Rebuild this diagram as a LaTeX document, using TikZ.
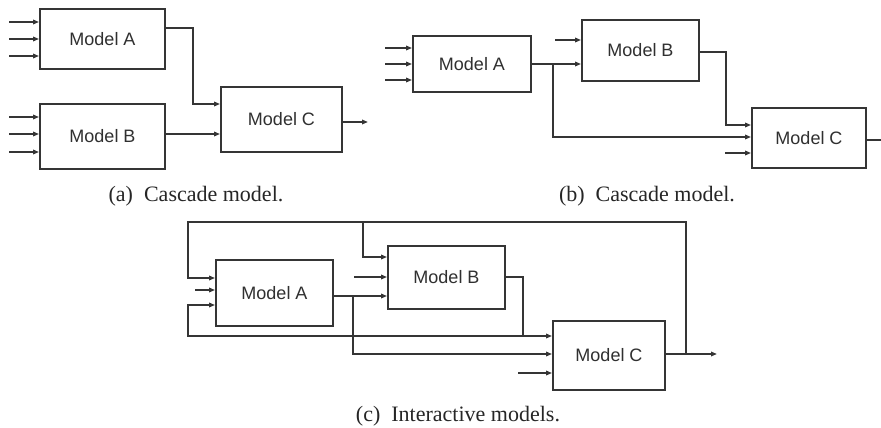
\documentclass[tikz,border=0pt]{standalone}
\usepackage{fontspec}
\setmainfont{Liberation Serif}
\newfontfamily\labelfont{Liberation Sans}
\usetikzlibrary{arrows.meta}
\definecolor{ink}{HTML}{353535}
\tikzset{
  box/.style={draw=ink, line width=1.9pt, fill=white, font=\labelfont\fontsize{18}{20}\selectfont, text=ink!90!black, inner sep=0pt},
  wire/.style={draw=ink, line width=1.7pt},
  arr/.style={wire, -{Triangle[length=6pt,width=4.5pt]}},
  captext/.style={font=\fontsize{22}{24}\selectfont, text=black!85, anchor=base, inner sep=0pt}
}
\begin{document}
\begin{tikzpicture}[x=1pt,y=-1pt]
\useasboundingbox[fill=white] (0,0) rectangle (881,428);

% ---------------- (a) ----------------
\node[box, minimum width=125pt, minimum height=60pt] (aA) at (102.5,39) {Model A};
\node[box, minimum width=125pt, minimum height=65pt] (aB) at (102.5,136.5) {Model B};
\node[box, minimum width=121pt, minimum height=65pt] (aC) at (281.5,119.5) {Model C};
\foreach \y in {22,39,56} {\coordinate (ain\y) at (9,\y); \draw[arr] (ain\y) -- (aA.west |- ain\y);}
\foreach \y in {117,134,152} {\coordinate (bin\y) at (9,\y); \draw[arr] (bin\y) -- (aB.west |- bin\y);}
\coordinate (aj1) at (193,28);
\coordinate (aj2) at (193,104);
\draw[arr] (aA.east |- aj1) -- (aj1) -- (aj2) -- (aC.west |- aj2);
\coordinate (aj3) at (190,134);
\draw[arr] (aB.east |- aj3) -- (aC.west |- aj3);
\coordinate (aout) at (368,122);
\draw[arr] (aC.east |- aout) -- (aout);
\node[captext] (capa) at (196,201) {(a)\ \ Cascade model.};

% ---------------- (b) ----------------
\node[box, minimum width=118pt, minimum height=56pt] (bA) at (472,64) {Model A};
\node[box, minimum width=117pt, minimum height=61pt] (bB) at (640.5,50.5) {Model B};
\node[box, minimum width=114pt, minimum height=60pt] (bC) at (809,138) {Model C};
\foreach \y in {48,64,80} {\coordinate (bain\y) at (385,\y); \draw[arr] (bain\y) -- (bA.west |- bain\y);}
\coordinate (bj1) at (553,64);
\coordinate (bj2) at (553,137);
\draw[arr] (bA.east |- bj1) -- (bB.west |- bj1);
\draw[arr] (bj1) -- (bj2) -- (bC.west |- bj2);
\coordinate (bbin) at (555,40);
\draw[arr] (bbin) -- (bB.west |- bbin);
\coordinate (bj3) at (726,52);
\coordinate (bj4) at (726,125);
\draw[arr] (bB.east |- bj3) -- (bj3) -- (bj4) -- (bC.west |- bj4);
\coordinate (bcin) at (725,153);
\draw[arr] (bcin) -- (bC.west |- bcin);
\coordinate (bout) at (881,140);
\draw[wire] (bC.east |- bout) -- (bout);
\node[captext] (capb) at (647,201) {(b)\ \ Cascade model.};

% ---------------- (c) ----------------
\node[box, minimum width=117pt, minimum height=66pt] (cA) at (274.5,293) {Model A};
\node[box, minimum width=117pt, minimum height=63pt] (cB) at (446.5,277.5) {Model B};
\node[box, minimum width=112pt, minimum height=69pt] (cC) at (609,355.5) {Model C};
% output and feedback
\coordinate (cout) at (717,354);
\coordinate (cf1) at (686,354);
\coordinate (cf2) at (686,222);
\coordinate (cf3) at (188,222);
\coordinate (cf4) at (188,278);
\draw[arr] (cC.east |- cout) -- (cout);
\draw[arr] (cf1) -- (cf2) -- (cf3) -- (cf4) -- (cA.west |- cf4);
\coordinate (cf5) at (363,222);
\coordinate (cf6) at (363,257);
\draw[arr] (cf5) -- (cf6) -- (cB.west |- cf6);
% other inputs
\coordinate (cain) at (195,290);
\draw[arr] (cain) -- (cA.west |- cain);
\coordinate (cbin) at (354,277);
\draw[arr] (cbin) -- (cB.west |- cbin);
\coordinate (ccin) at (518,373);
\draw[arr] (ccin) -- (cC.west |- ccin);
% A output
\coordinate (cj1) at (353,296);
\coordinate (cj2) at (353,354);
\draw[arr] (cA.east |- cj1) -- (cB.west |- cj1);
\draw[arr] (cj1) -- (cj2) -- (cC.west |- cj2);
% B output
\coordinate (cj3) at (523,277);
\coordinate (cj4) at (523,336);
\coordinate (cj5) at (188,336);
\coordinate (cj6) at (188,305);
\draw[wire] (cB.east |- cj3) -- (cj3) -- (cj4);
\draw[arr] (cj4) -- (cC.west |- cj4);
\draw[arr] (cj4) -- (cj5) -- (cj6) -- (cA.west |- cj6);
\node[captext] (capc) at (458,421) {(c)\ \ Interactive models.};
\end{tikzpicture}
\end{document}
